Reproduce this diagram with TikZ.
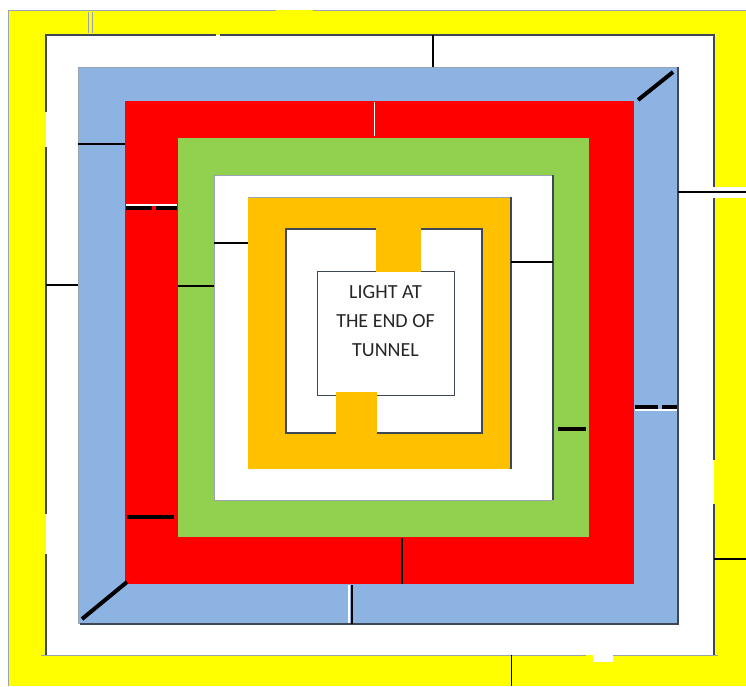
\documentclass[tikz,border=0pt]{standalone}
\usepackage{fontspec}
\newfontfamily\labelfont{Carlito}
\definecolor{myyellow}{HTML}{FFFF00}
\definecolor{myblue}{HTML}{8DB3E2}
\definecolor{myred}{HTML}{FF0000}
\definecolor{mygreen}{HTML}{92D050}
\definecolor{myorange}{HTML}{FFC000}
\definecolor{bord}{HTML}{3E4756}
\definecolor{lbord}{HTML}{9AA3B0}
\definecolor{txt}{HTML}{262626}
\tikzset{
  edge/.style={draw=bord, line width=1.3pt},
  ledge/.style={draw=lbord, line width=0.8pt},
  wall/.style={draw=black, line width=1.8pt},
  thinwall/.style={draw=black, line width=1.1pt},
  thickwall/.style={draw=black, line width=4pt},
  gapline/.style={draw=white, line width=1.5pt},
  lbl/.style={font=\labelfont\fontsize{20}{29}\selectfont, text=txt, anchor=base, inner sep=0pt}
}
\begin{document}
\begin{tikzpicture}[x=1pt,y=-1pt]
\useasboundingbox (0,0) rectangle (746,686);
\fill[white] (0,0) rectangle (746,686);
% yellow frame
\fill[myyellow] (8,10) rectangle (746,686);
\fill[white] (46,35) rectangle (714,655);
\fill[white] (714,187) rectangle (746,198);
\fill[white] (593,655) rectangle (613,662);
\draw[ledge] (8,686) -- (8,10) -- (276,10);
\draw[ledge] (313,10) -- (746,10);
\draw[draw=lbord, line width=0.8pt] (88,12) -- (88,33);
\draw[draw=lbord, line width=0.8pt] (92,12) -- (92,33);
% white corridor borders
\draw[edge] (46,112) -- (46,35) -- (216,35);
\draw[edge] (220,35) -- (714,35) -- (714,187);
\draw[edge] (46,147) -- (46,514);
\draw[edge] (46,554) -- (46,655);
\draw[edge] (714,198) -- (714,460);
\draw[edge] (714,504) -- (714,655);
\draw[draw=lbord, line width=1pt] (41,655) -- (586,655);
\draw[draw=lbord, line width=1pt] (613,655) -- (718,655);
% blue
\fill[myblue] (78,67) rectangle (678,624);
\draw[ledge] (78,624) -- (78,67) -- (678,67);
\draw[edge] (678,67) -- (678,624) -- (80,624);
% red
\fill[myred] (125,101) rectangle (634,584);
% green
\fill[mygreen] (178,138) rectangle (589,537);
% white inside green
\fill[white] (214,175) rectangle (553,500);
\draw[ledge] (214,500) -- (214,175) -- (553,175);
\draw[edge] (553,175) -- (553,500);
\draw[ledge] (214,500) -- (553,500);
% orange
\fill[myorange] (248,197) rectangle (511,469);
\draw[ledge] (248,197) -- (511,197);
\draw[edge] (511,197) -- (511,469);
\fill[white] (286,229) rectangle (482,433);
\draw[edge] (286,229) rectangle (482,433);
% centre box
\node[draw=bord, line width=1pt, fill=white, minimum width=137pt, minimum height=124pt, inner sep=0pt] (box) at (385.5,333) {};
\fill[myorange] (376,228) rectangle (421,272);
\fill[myorange] (336,392) rectangle (377,434);
\node[lbl] (l1) at (385.5,298) {LIGHT AT};
\node[lbl] (l2) at (385.5,327) {THE END OF};
\node[lbl] (l3) at (385.5,356) {TUNNEL};
% walls
\draw[thickwall] (638,100) -- (673,72);
\draw[thickwall] (82,619) -- (127,582);
\draw[thinwall] (78,144) -- (125,144);
\draw[gapline] (126,205) -- (177,205);
\draw[thickwall] (126,208) -- (152,208);
\draw[thickwall] (156,208) -- (177,208);
\draw[thickwall] (127,517) -- (174,517);
\draw[thickwall] (558,429) -- (586,429);
\draw[gapline] (635,410) -- (677,410);
\draw[thickwall] (635,407) -- (658,407);
\draw[thickwall] (662,407) -- (677,407);
\draw[wall] (46,285) -- (78,285);
\draw[thinwall] (178,286) -- (214,286);
\draw[wall] (214,243) -- (248,243);
\draw[wall] (511,262) -- (553,262);
\draw[wall] (433,35) -- (433,67);
\draw[wall] (678,192) -- (746,192);
\draw[wall] (714,559) -- (746,559);
\draw[draw=white, line width=1pt] (374,102) -- (374,136);
\draw[wall] (402,538) -- (402,584);
\draw[draw=white, line width=1.5pt] (349,585) -- (349,623);
\draw[wall] (352,585) -- (352,624);
\draw[draw=black, line width=1pt] (511,655) -- (511,686);
\end{tikzpicture}
\end{document}
